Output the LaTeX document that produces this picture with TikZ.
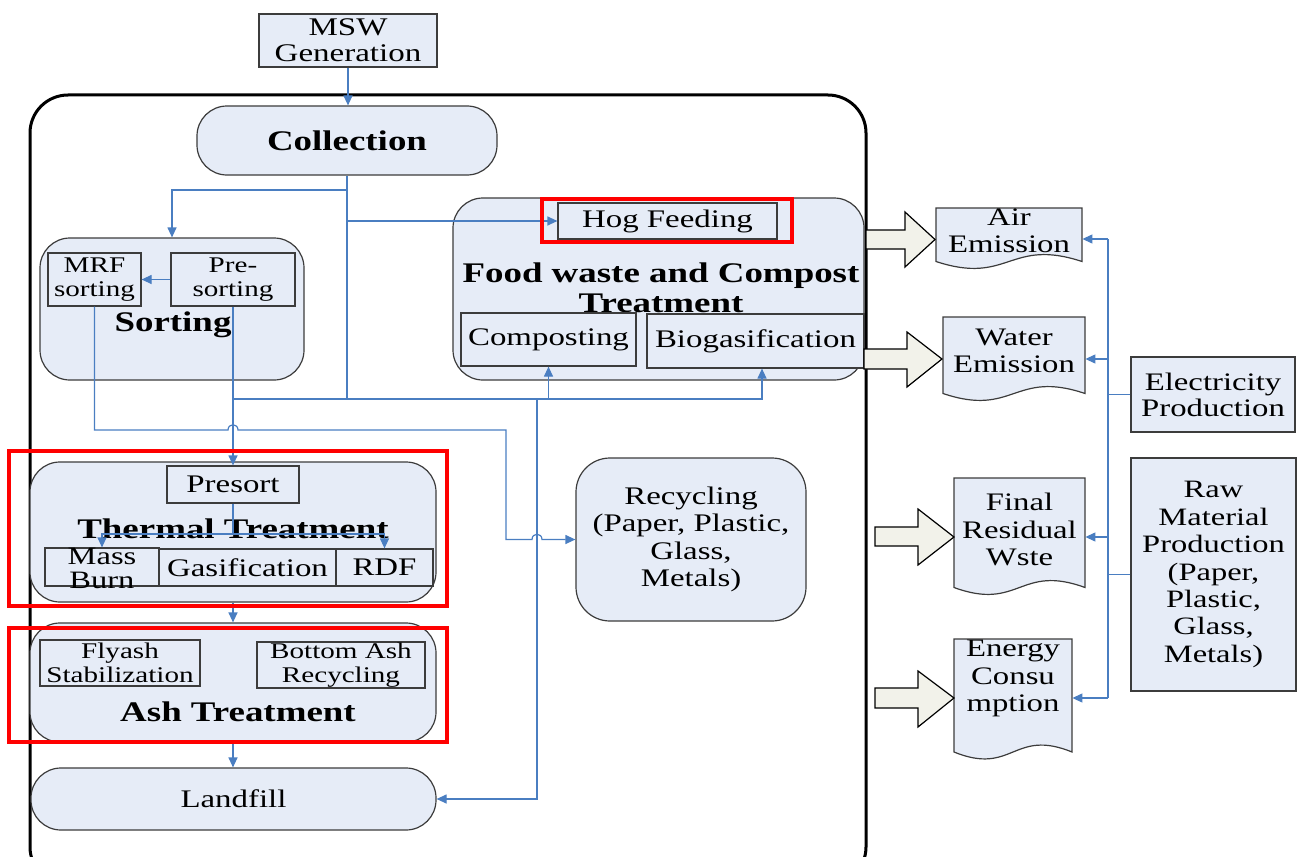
\documentclass[tikz,border=0pt]{standalone}
\usepackage{fontspec}
\setmainfont{Liberation Serif}[FakeStretch=1.3]
\usetikzlibrary{fit,arrows.meta}
\definecolor{boxfill}{RGB}{230,236,247}
\definecolor{boxline}{RGB}{60,60,60}
\definecolor{connblue}{RGB}{74,126,193}
\definecolor{arrowfill}{RGB}{242,242,234}
\newcommand\fbold{\fontsize{14.2pt}{15pt}\selectfont\bfseries}
\newcommand\freg{\fontsize{12.65pt}{13.5pt}\selectfont}
\newcommand\fsmall{\fontsize{11.2pt}{12pt}\selectfont}
\begin{document}
\begin{tikzpicture}[x=0.5pt,y=-0.5pt,
  box/.style={draw=boxline, fill=boxfill, line width=0.6pt, inner sep=0pt},
  grp/.style={box, rounded corners=15pt},
  txt/.style={inner sep=0pt, align=center, font=\freg},
  conn/.style={draw=connblue, line width=0.6pt},
  arr/.style={conn, -{Triangle[length=5pt,width=4.5pt]}},
  hl/.style={draw=red, line width=2pt, inner sep=0pt},
  blk/.style={draw=black, fill=arrowfill, line width=0.6pt},
  doc/.style={draw=boxline, fill=boxfill, line width=0.6pt},
  anchorbox/.style={inner sep=0pt}]
\useasboundingbox (0,0) rectangle (1300,856);
\clip (0,0) rectangle (1300,856);

% outer frame
\node[draw=black, line width=1.5pt, rounded corners=19pt, inner sep=0pt, fit={(30,95)(866,885)}] (frame) {};

% top boxes
\node[box, fit={(259,14)(437,67)}] (msw) {};
\node[txt, font=\fontsize{12.7pt}{13pt}\selectfont] (mswt) at (msw) {MSW\\Generation};
\node[grp, fit={(197,106)(497,175)}] (coll) {};
\node[txt, font=\fbold] (collt) at (coll) {Collection};

% sorting group
\node[grp, fit={(40,238)(304,380)}] (sortg) {};
\node[box, fit={(48,253)(141,306)}] (mrf) {};
\node[txt, font=\fsmall] (mrft) at (mrf) {MRF\\sorting};
\node[box, fit={(171,253)(295,306)}] (pres) {};
\node[txt, font=\fsmall] (prest) at (pres) {Pre-\\sorting};
\node[txt, font=\fbold] (sortt) at (173,325) {Sorting};

% food waste group
\node[grp, fit={(453,198)(864,380)}] (foodg) {};
\node[box, fit={(558,203)(777,239)}] (hog) {};
\node[txt] (hogt) at (hog) {Hog Feeding};
\node[txt, font=\fbold] (foodt) at (661,288) {Food waste and Compost\\Treatment};
\node[box, fit={(461,313)(636,366)}] (comp) {};
\node[txt] (compt) at (comp) {Composting};
\node[box, fit={(647,314)(864,368)}] (biog) {};
\node[txt] (biogt) at (biog) {Biogasification};

% thermal group
\node[grp, fit={(30,462)(436,602)}] (thermg) {};
\node[box, fit={(167,466)(299,503)}] (presort) {};
\node[txt] (presortt) at (presort) {Presort};
\node[txt, font=\fbold] (thermt) at (233,529) {Thermal Treatment};
\node[box, fit={(45,548)(159,586)}] (mass) {};
\node[txt, font=\fontsize{12.5pt}{12pt}\selectfont] (masst) at (102,568) {Mass\\Burn};
\node[box, fit={(159,549)(336,586)}] (gasif) {};
\node[txt] (gasift) at (gasif) {Gasification};
\node[box, fit={(336,549)(433,586)}] (rdf) {};
\node[txt] (rdft) at (rdf) {RDF};

% ash group
\node[grp, fit={(30,623)(436,742)}] (ashg) {};
\node[box, fit={(40,640)(200,686)}] (fly) {};
\node[txt, font=\fsmall] (flyt) at (fly) {Flyash\\Stabilization};
\node[box, fit={(257,642)(425,688)}] (bot) {};
\node[txt, font=\fsmall] (bott) at (bot) {Bottom Ash\\Recycling};
\node[txt, font=\fbold] (asht) at (238,712) {Ash Treatment};

% landfill
\node[grp, fit={(31,768)(436,830)}] (land) {};
\node[txt] (landt) at (land) {Landfill};

% recycling
\node[box, rounded corners=17pt, fit={(576,458)(806,621)}] (recy) {};
\node[txt, font=\fontsize{12.65pt}{13.6pt}\selectfont] (recyt) at (recy) {Recycling\\(Paper, Plastic,\\Glass,\\Metals)};

% right boxes
\node[box, fit={(1131,357)(1295,432)}] (elec) {};
\node[txt, font=\fontsize{12.6pt}{13pt}\selectfont] (elect) at (elec) {Electricity\\Production};
\node[box, fit={(1131,458)(1296,691)}] (raw) {};
\node[txt, font=\fontsize{12.5pt}{13.7pt}\selectfont] (rawt) at (raw) {Raw\\Material\\Production\\(Paper,\\Plastic,\\Glass,\\Metals)};

% document shapes
\draw[doc] (936,208) -- (1082,208) -- (1082,261.5) .. controls (1009,237.5) and (1009,285.5) .. (936,261.5) -- cycle;
\node[anchorbox, fit={(936,208)(1082,270)}] (air) {};
\node[txt, font=\fontsize{12.6pt}{13.5pt}\selectfont] (airt) at (1009,230.5) {Air\\Emission};

\draw[doc] (943,317) -- (1085,317) -- (1085,393.5) .. controls (1014,369.5) and (1014,417.5) .. (943,393.5) -- cycle;
\node[anchorbox, fit={(943,317)(1085,401)}] (water) {};
\node[txt, font=\fontsize{12.6pt}{13.5pt}\selectfont] (watert) at (1014,350.5) {Water\\Emission};

\draw[doc] (954,478) -- (1085,478) -- (1085,587.5) .. controls (1019.5,563.5) and (1019.5,611.5) .. (954,587.5) -- cycle;
\node[anchorbox, fit={(954,478)(1085,596)}] (final) {};
\node[txt, font=\fontsize{12.6pt}{13.75pt}\selectfont] (finalt) at (1019.5,529.5) {Final\\Residual\\Wste};

\draw[doc] (954,639) -- (1072,639) -- (1072,752) .. controls (1013,728) and (1013,776) .. (954,752) -- cycle;
\node[anchorbox, fit={(954,639)(1072,757)}] (energy) {};
\node[txt, font=\fontsize{12.6pt}{13.75pt}\selectfont] (energyt) at (1013,678.5) {Energy\\Consu\\mption};

% block arrows
\draw[blk] (866,230) -- (905,230) -- (905,212) -- (935,239.5) -- (905,267) -- (905,249) -- (866,249) -- cycle;
\draw[blk] (864,349) -- (907,349) -- (907,332) -- (942,359) -- (907,387) -- (907,369) -- (864,369) -- cycle;
\draw[blk] (875,527) -- (918,527) -- (918,509) -- (954,537) -- (918,565) -- (918,546) -- (875,546) -- cycle;
\draw[blk] (875,688) -- (918,688) -- (918,671) -- (954,698) -- (918,727) -- (918,708) -- (875,708) -- cycle;

% connectors: collection area
\draw[arr] (msw.south) -- (msw.south |- coll.north);
\coordinate (j1) at (347,190);
\coordinate (jb) at (347,399);
\coordinate (jl) at (537,399);
\draw[conn] (coll.south) -- (jb);
\draw[arr] (j1) -| (sortg.north);
\draw[arr] (coll.south |- hog.west) -- (hog.west);
\draw[arr] (pres.west) -- (mrf.east);
\draw[conn] (pres.south) |- (jb);
\draw[arr] (jb) -| ([xshift=3.25pt]biog.south);
\draw[arr] (comp.south |- jb) -- (comp.south);
\draw[arr] (jl) |- (land.east);
\draw[arr] (pres.south |- jb) -- (presort.north);
\draw[arr] (mrf.south) -- (94.5,430) -- (228,430) .. controls (228,423) and (238,423) .. (238,430)
  -- (506,430) -- (506,539.5) -- (532,539.5) .. controls (532,532.5) and (542,532.5) .. (542,539.5) -- (recy.west);

% thermal connectors
\coordinate (tj) at (233,534);
\draw[conn] (presort.south) -- (tj);
\draw[arr] (tj) -| (mass.north);
\draw[arr] (tj) -| (rdf.north);
\draw[arr] (thermg.south) -- (ashg.north);
\draw[arr] (ashg.south) -- (ashg.south |- land.north);

% right bus
\coordinate (busTop) at (1108,239);
\coordinate (busBot) at (1108,698);
\draw[conn] (busTop) -- (busBot);
\draw[arr] (busTop) -- (air.east);
\draw[arr] (water.east -| busTop) -- (water.east);
\draw[arr] (final.east -| busTop) -- (final.east);
\draw[arr] (busBot) -- (energy.east);
\draw[conn] (elec.west) -- (elec.west -| busTop);
\draw[conn] (raw.west) -- (raw.west -| busTop);

% red highlights
\node[hl, fit={(542,199)(792,242)}] (hoghl) {};
\node[hl, fit={(9,451)(447,606)}] (thermhl) {};
\node[hl, fit={(9,628)(447,742)}] (ashhl) {};
\end{tikzpicture}
\end{document}
